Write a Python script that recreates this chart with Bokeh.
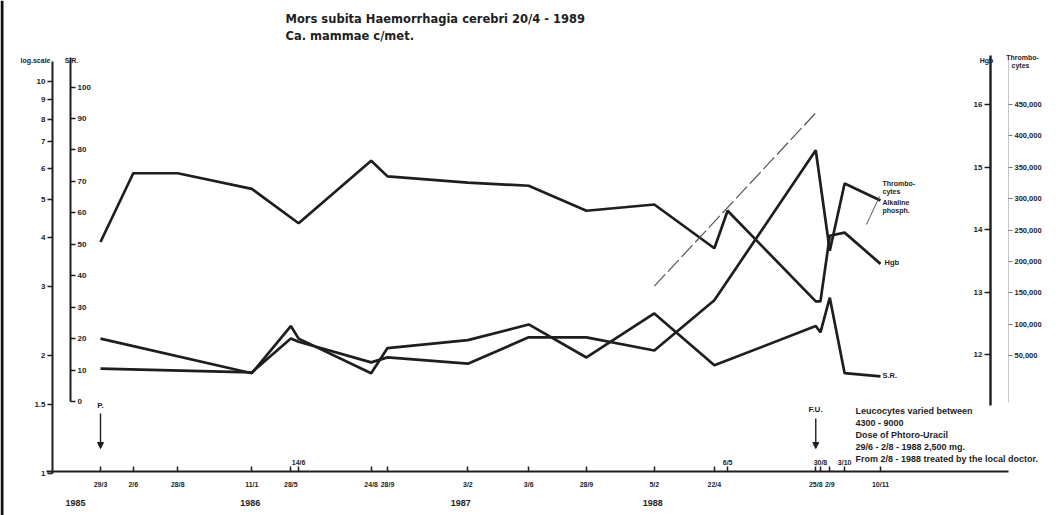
from bokeh.plotting import figure
from bokeh.models import (Range1d, LinearAxis, LogAxis, LinearScale, LogScale, FixedTicker,
                          NumeralTickFormatter, Arrow, NormalHead, Span)
from bokeh.core.properties import value
from bokeh.embed import file_html
from bokeh.resources import INLINE

# ---------------- data ----------------
visit_labels = ["29/3", "2/6", "28/8", "11/1", "28/5", "14/6", "24/8", "28/9",
                "3/2", "3/6", "28/9", "5/2", "22/4", "6/5", "25/8", "30/8", "2/9", "3/10", "10/11"]
# position of each visit on the hand-drawn time axis (0 = 29/3 1985, 100 = 10/11 1988)
visit_pos = [0.0, 4.2, 9.9, 19.4, 24.4, 25.4, 34.7, 36.8, 47.1, 54.9, 62.3, 71.0,
             78.7, 80.4, 91.7, 92.3, 93.5, 95.4, 100.0]
label_above = [False, False, False, False, False, True, False, False, False, False, False,
               False, False, True, False, True, False, True, False]
year_labels = ["1985", "1986", "1987", "1988"]
year_pos = [-3.2, 19.2, 46.2, 70.8]

hgb = [13.8, 14.9, 14.9, 14.65, None, 14.1, 15.1, 14.85, 14.75, 14.7, 14.3, 14.4,
       13.7, 14.3, 12.85, 12.85, 13.9, 13.95, 13.45]
sr = [20, None, None, 9, 24, 20, 9, 17, 19.5, 24.5, 14, 28,
      11.5, None, 24, 22, 33, 9, 8]
thrombocytes = [29000, None, None, 23000, 77000, 72000, 39000, 47000, 37000, 79000, 79000, 58000,
                138000, None, 377000, None, 217000, 324000, 297000]
alk_phos = [None, None, None, None, None, None, None, None, None, None, None, 3.0,
            None, None, 8.3, None, None, None, None]

log_ticks = [1, 1.5, 2, 3, 4, 5, 6, 7, 8, 9, 10]
sr_ticks = [0, 10, 20, 30, 40, 50, 60, 70, 80, 90, 100]
hgb_ticks = [12, 13, 14, 15, 16]
thr_ticks = [50000, 100000, 150000, 200000, 250000, 300000, 350000, 400000, 450000]

note_lines = ["Leucocytes varied between",
              "4300 - 9000",
              "Dose of Phtoro-Uracil",
              "29/6 - 2/8 - 1988  2,500 mg.",
              "From 2/8 - 1988 treated by the local doctor."]

# ---------------- layout helpers (page geometry of the drawn chart) ----------------
def gx(px):   # horizontal page position -> time-axis units
    return (px - 100) / 7.8

def gy(py):   # vertical page position -> S.R. units (main range)
    return (401 - py) / 3.145

def g_log(py):
    return 10 ** ((472.7 - py) / 392)

def g_hgb(py):
    return 16 - (py - 104) / 62.5

def g_thr(py):
    return 450000 - (py - 104) / 0.6275 * 1000

INK = "#1e1e1e"
FONT = "Liberation Sans"
TOP, BOT, LEFT, RIGHT = 0, 515, 0, 1061

p = figure(width=1061, height=515, output_backend="svg", toolbar_location=None,
           x_axis_type=None, y_axis_type=None, title=None,
           x_range=Range1d(gx(LEFT), gx(RIGHT)), y_range=Range1d(gy(BOT), gy(TOP)),
           min_border=0, outline_line_color=None, background_fill_color="white",
           border_fill_color="white")
p.extra_y_ranges = {"log": Range1d(g_log(BOT), g_log(TOP)),
                    "hgb": Range1d(g_hgb(BOT), g_hgb(TOP)),
                    "thr": Range1d(g_thr(BOT), g_thr(TOP))}
p.extra_y_scales = {"log": LogScale(), "hgb": LinearScale(), "thr": LinearScale()}


def style_axis(ax, size="8px", line_w=2.0):
    ax.major_label_text_font = FONT
    ax.major_label_text_font_size = size
    ax.major_label_text_font_style = "bold"
    ax.major_label_text_color = INK
    ax.axis_line_color = INK
    ax.axis_line_width = line_w
    ax.major_tick_line_color = INK
    ax.major_tick_line_width = 1.5
    ax.minor_tick_line_color = None
    ax.minor_tick_in = 0
    ax.minor_tick_out = 0


# scanned page edge on the left
p.add_layout(Span(location=gx(1.5), dimension="height", line_color="#111111", line_width=3))

# log scale axis (outer left)
log_axis = LogAxis(y_range_name="log", fixed_location=gx(52), ticker=FixedTicker(ticks=log_ticks),
                   bounds=(1, 11.2), major_tick_out=5, major_tick_in=0, major_label_standoff=2,
                   major_label_overrides={t: ("%g" % t) for t in log_ticks})
style_axis(log_axis)
p.add_layout(log_axis, "left")

# S.R. axis (labels on its right)
sr_axis = LinearAxis(fixed_location=gx(70), ticker=FixedTicker(ticks=sr_ticks),
                     bounds=(0, gy(57)), major_tick_out=5, major_tick_in=0, major_label_standoff=2)
style_axis(sr_axis)
p.add_layout(sr_axis, "right")

# Hgb axis (right side, labels on its left)
hgb_axis = LinearAxis(y_range_name="hgb", fixed_location=gx(990), ticker=FixedTicker(ticks=hgb_ticks),
                      bounds=(g_hgb(405), g_hgb(55)), major_tick_out=6, major_tick_in=0,
                      major_label_standoff=2)
style_axis(hgb_axis, line_w=2.4)
p.add_layout(hgb_axis, "left")

# Thrombocytes axis (far right)
thr_axis = LinearAxis(y_range_name="thr", fixed_location=gx(1008), ticker=FixedTicker(ticks=thr_ticks),
                      formatter=NumeralTickFormatter(format="0,0"),
                      bounds=(g_thr(402), g_thr(57)), major_tick_out=4, major_tick_in=0,
                      major_label_standoff=2)
style_axis(thr_axis, size="7.5px", line_w=1)
thr_axis.axis_line_alpha = 0.25
thr_axis.major_tick_line_width = 1
thr_axis.major_tick_line_color = "#777777"
p.add_layout(thr_axis, "right")

# time axis with labels below
x_axis = LinearAxis(fixed_location=gy(471), ticker=FixedTicker(ticks=visit_pos),
                    bounds=(gx(46), gx(1008)), major_tick_in=5, major_tick_out=0,
                    major_label_standoff=9,
                    major_label_overrides={pos: ("" if up else lab)
                                           for pos, lab, up in zip(visit_pos, visit_labels, label_above)})
style_axis(x_axis, size="7px")
p.add_layout(x_axis, "below")

# labels written above the time axis
up_pos = [pos for pos, up in zip(visit_pos, label_above) if up]
up_axis = LinearAxis(fixed_location=gy(471), ticker=FixedTicker(ticks=up_pos),
                     major_tick_in=0, major_tick_out=0, major_label_standoff=6,
                     major_label_overrides={pos: lab for pos, lab, up in
                                            zip(visit_pos, visit_labels, label_above) if up})
style_axis(up_axis, size="7px")
up_axis.axis_line_color = None
up_axis.major_tick_line_color = None
p.add_layout(up_axis, "above")

# year labels
yr_axis = LinearAxis(fixed_location=gy(471), ticker=FixedTicker(ticks=year_pos),
                     major_tick_in=0, major_tick_out=0, major_label_standoff=28,
                     major_label_overrides=dict(zip(year_pos, year_labels)))
style_axis(yr_axis, size="9px")
yr_axis.axis_line_color = None
yr_axis.major_tick_line_color = None
p.add_layout(yr_axis, "below")


# ---------------- series ----------------
def pts(vals):
    xs = [x for x, v in zip(visit_pos, vals) if v is not None]
    ys = [v for v in vals if v is not None]
    return xs, ys


x, y = pts(hgb)
p.line(x, y, y_range_name="hgb", line_color=INK, line_width=2.7)
x, y = pts(sr)
p.line(x, y, line_color=INK, line_width=2.7)
x, y = pts(thrombocytes)
p.line(x, y, y_range_name="thr", line_color=INK, line_width=2.7)
x, y = pts(alk_phos)
p.line(x, y, y_range_name="log", line_color="#555555", line_width=1.2, line_dash="16 4")

# ---------------- texts ----------------
def txt(px, py, s, size="8px", align="left", color=INK, style="bold", font=FONT):
    p.text(x=[gx(px)], y=[gy(py)], text=[s], text_font=value(font), text_font_size=size,
           text_font_style=style, text_color=color, text_align=align, text_baseline="middle")


txt(285, 18, "Mors subita  Haemorrhagia  cerebri  20/4 - 1989", size="11.5px", font="DejaVu Sans")
txt(285, 35, "Ca.  mammae  c/met.", size="11.5px", font="DejaVu Sans")

txt(35, 60, "log.scale", size="7px", align="center")
txt(71, 60, "S.R.", size="7px", align="center")
txt(986, 60, "Hgb", size="7px", align="center")
txt(1022, 57, "Thrombo-", size="7px", align="center")
txt(1020, 65, "cytes", size="7px", align="center")

txt(882, 183, "Thrombo-", size="7px")
txt(882, 191, "cytes", size="7px")
txt(882, 202, "Alkaline", size="7px")
txt(882, 210, "phosph.", size="7px")
txt(884, 262, "Hgb", size="7.5px")
txt(882, 375, "S.R.", size="7.5px")

# leader for alkaline phosphatase label
p.line([gx(866), gx(879)], [gy(224), gy(196)], line_color="#555555", line_width=1)

txt(100, 405, "P.", size="8px", align="center")
txt(815, 409, "F.U.", size="8px", align="center")
for px_, y0 in ((visit_pos[0], 413), (visit_pos[14], 418)):
    p.add_layout(Arrow(end=NormalHead(size=6, fill_color=INK, line_color=INK),
                       x_start=px_, y_start=gy(y0), x_end=px_, y_end=gy(448),
                       line_color=INK, line_width=1.4))

for i, s in enumerate(note_lines):
    txt(855, 410 + i * 12, s, size="9px")

open("out.html", "w").write(file_html(p, INLINE))
